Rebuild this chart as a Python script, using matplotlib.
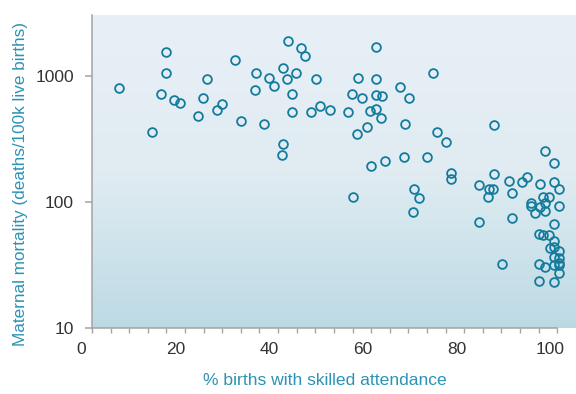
import numpy as np
import matplotlib
matplotlib.use("Agg")
import matplotlib.pyplot as plt
from matplotlib.colors import LinearSegmentedColormap
from matplotlib.transforms import blended_transform_factory

# % births attended by skilled personnel, per country
attendance = [
    8.0, 15.1, 16.9, 17.9, 17.9, 19.8, 21.0, 24.8, 25.8, 26.8,
    28.9, 30.0, 32.8, 33.9, 37.1, 36.9, 39.0, 39.9, 41.0, 42.9,
    42.8, 43.0, 43.8, 44.0, 44.9, 44.8, 45.8, 46.9, 47.6, 49.0,
    50.0, 50.9, 52.9, 56.9, 57.7, 58.0, 58.8, 59.0, 59.9, 60.9,
    61.6, 61.7, 62.9, 62.8, 62.9, 62.8, 63.9, 64.1, 64.8, 68.0,
    68.8, 68.9, 69.8, 70.9, 70.8, 72.0, 73.8, 74.9, 75.8, 77.8,
    78.8, 78.8, 84.8, 84.8, 86.7, 87.0, 87.8, 87.9, 88.0, 89.8,
    91.1, 91.8, 91.8, 93.9, 95.0, 95.8, 95.8, 96.7, 97.8, 97.8,
    98.4, 98.8, 98.8, 98.8, 99.8, 100.7, 100.8, 100.7, 101.9, 101.8,
    97.7, 98.5, 99.8, 100.9, 99.9, 100.8, 101.9, 100.7, 101.8, 101.9,
    101.9, 100.8, 97.7, 98.9, 101.8, 97.7, 100.8,
]

# maternal deaths per 100k live births, same country order
mortality = [
    810, 360, 720, 1560, 1050, 640, 615, 485, 665, 950,
    540, 600, 1350, 440, 1050, 780, 415, 965, 840, 290,
    235, 1150, 950, 1900, 715, 520, 1050, 1660, 1440, 520,
    945, 580, 535, 520, 725, 110, 345, 965, 675, 395,
    530, 194, 1700, 955, 710, 545, 465, 690, 213, 820,
    226, 414, 665, 127, 83, 108, 226, 1055, 360, 300,
    171, 151, 136, 69, 109, 128, 127, 405, 166, 32,
    147, 117, 75, 145, 159, 99, 93, 82, 138, 91,
    109, 254, 98, 85, 109, 203, 145, 67.5, 127, 93,
    56, 54.7, 54.7, 49, 42.8, 44, 41, 36.7, 35.7, 33.1,
    31.5, 31.9, 32, 30.7, 27.4, 23.7, 23,
]

x_labels = [0, 20, 40, 60, 80, 100]
y_ticks = [10, 100, 1000]

teal = "#2b93b5"
ring = "#137b9d"
plt.rcParams["font.family"] = ["Liberation Sans", "DejaVu Sans"]

fig = plt.figure(figsize=(5.76, 3.94), dpi=100)
ax = fig.add_axes([0.1597, 0.1675, 0.8403, 0.7944])

ax.set_yscale("log")
ax.set_xlim(2.2, 105.5)
ax.set_ylim(10, 3050)

# pale blue wash, darker towards the bottom
wash = LinearSegmentedColormap.from_list(
    "wash", [(0.0, "#bbd9e3"), (0.03, "#bfdbe5"), (0.5, "#e0ecf2"),
             (1.0, "#e8f0f6")])
grad = np.linspace(0, 1, 256).reshape(-1, 1)
ax.imshow(grad, cmap=wash, origin="lower", aspect="auto",
          extent=[0, 1, 0, 1], transform=ax.transAxes, zorder=0)

ax.plot(attendance, mortality, "o", ms=6.3, mfc="none", mec=ring, mew=1.3,
        zorder=3, clip_on=False)

for side in ["top", "right"]:
    ax.spines[side].set_visible(False)
for side in ["left", "bottom"]:
    ax.spines[side].set_color("#a3a3a3")
    ax.spines[side].set_linewidth(1.1)
ax.spines["bottom"].set_bounds(2.2, 101.5)

ax.set_yticks(y_ticks)
ax.set_yticklabels([str(v) for v in y_ticks])
ax.yaxis.set_minor_locator(matplotlib.ticker.NullLocator())
ax.tick_params(axis="y", length=5, width=1.1, color="#a3a3a3", pad=8,
               labelcolor="#333333", labelsize=12.5)

ax.set_xticks(np.linspace(2.2, 101.5, 26))
ax.set_xticklabels([])
ax.tick_params(axis="x", length=3.6, width=1.0, color="#a3a3a3")

trans = blended_transform_factory(ax.transData, ax.transAxes)
for v in x_labels:
    ax.text(v, -0.07, str(v), transform=trans, ha="center", va="center",
            fontsize=12.5, color="#333333", clip_on=False)

fig.text(0.564, 0.033, "% births with skilled attendance", ha="center",
         va="center", fontsize=12.6, color=teal)
fig.text(0.035, 0.534, "Maternal mortality (deaths/100k live births)",
         ha="center", va="center", rotation=90, fontsize=12.3, color=teal)

fig.savefig("out.png", dpi=100)
